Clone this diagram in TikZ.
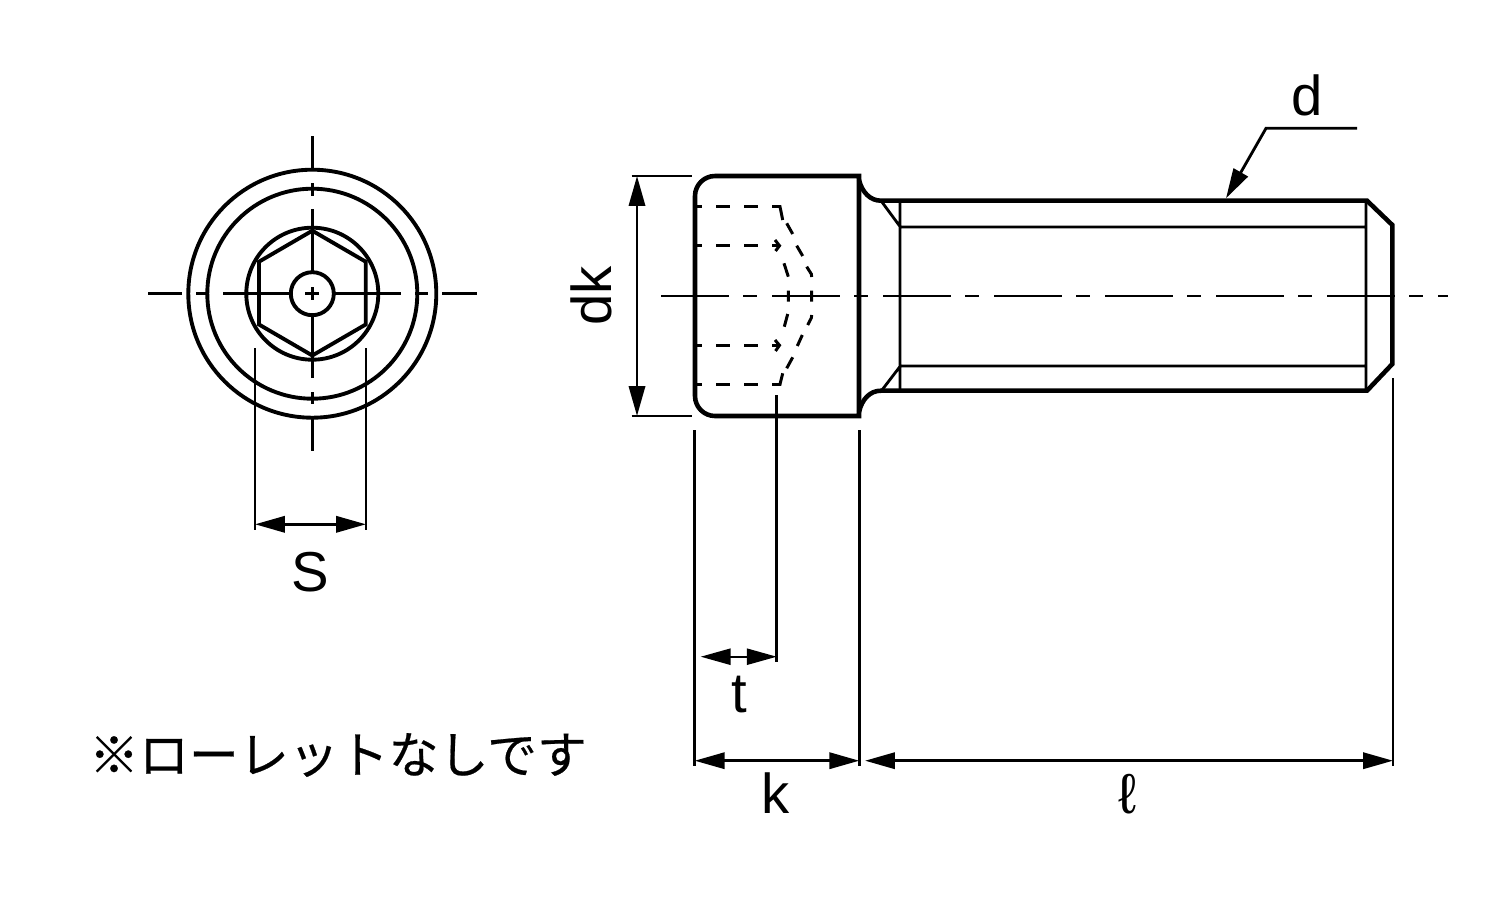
\documentclass[tikz,border=0pt]{standalone}
\usepackage{fontspec}
\setmainfont{Liberation Sans}
\newfontfamily\cjk[FakeBold=0.4]{Noto Sans CJK JP}
\usetikzlibrary{arrows.meta}
\tikzset{
	outline/.style={line width=1.3pt},
	body/.style={line width=1.1pt},
	thin line/.style={line width=.8pt},
	centre line/.style={line width=.75pt},
	hidden/.style={line width=.85pt},
	hidden row/.style={line width=.85pt, dash pattern=on .14cm off .14cm, dash phase=.07cm},
	dim/.style={line width=.8pt, {Triangle[length=8.5pt,width=4.6pt]}-{Triangle[length=8.5pt,width=4.6pt]}},
	leader/.style={line width=.8pt, -{Triangle[length=8.5pt,width=4.6pt]}},
	label/.style={inner sep=0pt, font=\fontsize{16pt}{16pt}\selectfont}
}
\begin{document}
\begin{tikzpicture}[x=0.01cm,y=-0.01cm]
\useasboundingbox (0,0) rectangle (1500,900);

% end view
\coordinate (c) at (312.3,293.7);
\draw[body] (c) circle (124);
\draw[body] (c) circle (105);
\draw[body] (c) circle (66);
\draw[body] (c) circle (21.5);
\draw[body] (312.3,230.7) -- (365.7,261.7) -- (365.7,324.5) -- (312.3,355.5) -- (259,324.5) -- (259,261.7) -- cycle;
\draw[centre line] (148,293.7) -- (182,293.7)
	  (196,293.7) -- (207,293.7)
	  (223,293.7) -- (290,293.7)
	  (305,293.7) -- (319,293.7)
	  (335,293.7) -- (401,293.7)
	  (415,293.7) -- (428,293.7)
	  (442,293.7) -- (477,293.7);
\draw[centre line] (312.3,136) -- (312.3,170)
	  (312.3,183) -- (312.3,196)
	  (312.3,209) -- (312.3,272)
	  (312.3,287) -- (312.3,300)
	  (312.3,315) -- (312.3,378)
	  (312.3,392) -- (312.3,404)
	  (312.3,417) -- (312.3,451);

% head
\draw[outline] (859,416) [rounded corners=.2cm] -- (695,416) -- (695,176) [sharp corners] -- (859,176) -- cycle;
\draw[outline] (859,180) .. controls (862,192) and (870,200.7) .. (881,200.7) -- (1367,200.7) -- (1392.3,225)
	  -- (1392.3,364) -- (1367,390.7) -- (881,390.7) .. controls (870,390.7) and (862,399) .. (859,412);

% thread
\draw[thin line] (900,200.7) -- (900,390.7)
	  (1366,200.7) -- (1366,390.7)
	  (900,227) -- (1366,227)
	  (900,366) -- (1366,366)
	  (881.7,201.7) -- (900,226.5)
	  (882,390) -- (900,366.5);

% socket
\draw[hidden row] (695,206.7) -- (779,206.7);
\draw[hidden row] (695,245.7) -- (779,245.7);
\draw[hidden row] (695,345.3) -- (779,345.3);
\draw[hidden row] (695,384.3) -- (779,384.3);
\draw[hidden] (779,206.7) -- (780,206.7) -- (782.7,220)
	  (786.7,223.3) -- (792.7,234)
	  (796.7,245.7) -- (802.7,256)
	  (806.7,266.7) -- (811.3,274) -- (811.7,277)
	  (811.7,290.7) -- (811.7,301.7)
	  (811.7,315) -- (811.3,318) -- (807.7,325)
	  (802.3,335) -- (797.3,346)
	  (792.7,357.3) -- (786.7,368.3)
	  (782.7,373.3) -- (780,384.3) -- (779,384.3);
\draw[hidden] (775,240) -- (779.5,245.7) -- (775.5,251)
	  (784,263.3) -- (788.3,276.7)
	  (788.3,290.7) -- (788.3,301.7)
	  (787.7,314) -- (784.3,326.7)
	  (775,340) -- (779.5,345.3) -- (775.5,351);

% axis
\draw[centre line, dash pattern=on .68cm off .14cm on .14cm off .15cm] (661,296) -- (1448,296);

% dimensions
\coordinate (dkTop) at (637,176);
\coordinate (dkBot) at (637,416);
\coordinate (kLeft) at (694.7,760.7);
\coordinate (kRight) at (859.3,760.7);
\coordinate (lLeft) at (865,760.7);
\coordinate (lRight) at (1393,760.7);
\coordinate (tLeft) at (700.7,656.7);
\coordinate (tRight) at (776.7,656.7);
\coordinate (sLeft) at (255,524.3);
\coordinate (sRight) at (366,524.3);
\coordinate (dEnd) at (1357,128.3);
\coordinate (dBend) at (1266,128.3);
\coordinate (dTip) at (1226,198.3);

\draw[thin line] (631.7,176) -- (691.7,176)
	  (631.7,416) -- (691.7,416)
	  (694.7,430) -- (694.7,766)
	  (859.3,430) -- (859.3,766)
	  (776.7,395) -- (776.7,662)
	  (1393,378) -- (1393,766)
	  (255,348) -- (255,530)
	  (366,348) -- (366,530);
\draw[dim] (dkTop) -- (dkBot);
\draw[dim] (kLeft) -- (kRight);
\draw[dim] (lLeft) -- (lRight);
\draw[dim, line width=.55pt] (tLeft) -- (tRight);
\draw[dim] (sLeft) -- (sRight);
\draw[leader] (dEnd) -- (dBend) -- (dTip);

\node[label] (lblD) at (1307,95) {d};
\node[label, rotate=90] (lblDk) at (591,296) {dk};
\node[label] (lblS) at (310,572) {S};
\node[label] (lblT) at (739,695) {t};
\node[label] (lblK) at (776,793) {k};
\node[label] (lblL) at (1128,794) {ℓ};
\node[inner sep=0pt, font=\cjk\fontsize{14.2pt}{14.2pt}\selectfont] (note) at (338,755) {※ローレットなしです};
\end{tikzpicture}
\end{document}
